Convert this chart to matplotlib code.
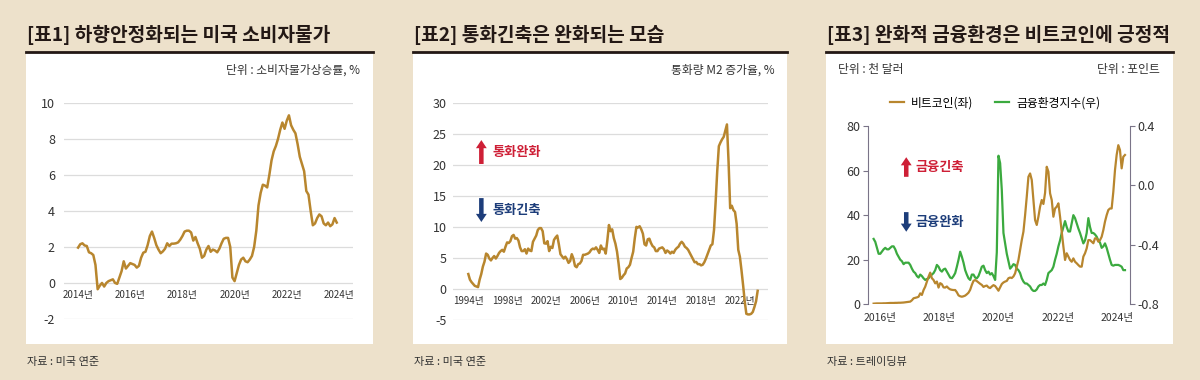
import numpy as np
import matplotlib
matplotlib.use("Agg")
import matplotlib.pyplot as plt
from matplotlib.patches import Rectangle
from matplotlib.lines import Line2D

plt.rcParams['font.family'] = ['Noto Sans CJK KR', 'DejaVu Sans']
plt.rcParams['axes.unicode_minus'] = False

# ---- data ----
# [표1] US CPI, monthly from 2014-01
cpi_start = 2014
cpi = [1.96, 2.15, 2.2, 2.08, 2.05, 1.7, 1.65, 1.55, 1.0, -0.35, -0.15, 0.0,
       -0.2, 0.0, 0.1, 0.15, 0.2, 0.0, -0.05, 0.3, 0.65, 1.2, 0.8, 0.95,
       1.1, 1.05, 1.0, 0.85, 0.95, 1.4, 1.68, 1.73, 2.1, 2.6, 2.85, 2.5,
       2.1, 1.85, 1.65, 1.75, 1.9, 2.2, 2.05, 2.18, 2.18, 2.2, 2.25, 2.4,
       2.6, 2.85, 2.9, 2.9, 2.8, 2.35, 2.55, 2.2, 1.9, 1.4, 1.5, 1.85,
       2.05, 1.73, 1.85, 1.8, 1.7, 1.9, 2.2, 2.45, 2.5, 2.5, 2.0, 0.3,
       0.1, 0.55, 1.0, 1.3, 1.4, 1.2, 1.15, 1.3, 1.5, 2.0, 2.9, 4.3,
       5.0, 5.45, 5.4, 5.3, 6.0, 6.8, 7.3, 7.6, 8.0, 8.5, 8.9, 8.55,
       9.0, 9.3, 8.75, 8.5, 8.3, 7.7, 7.0, 6.6, 6.2, 5.1, 4.9, 4.0,
       3.2, 3.3, 3.6, 3.8, 3.7, 3.3, 3.2, 3.35, 3.15, 3.25, 3.6, 3.35]
cpi_years = [2014, 2016, 2018, 2020, 2022, 2024]
cpi_yticks = [-2, 0, 2, 4, 6, 8, 10]

# [표2] M2 growth, every two months from 1994-01
m2_start = 1994
m2 = [2.4, 1.5, 1.1, 0.8, 0.5, 0.4, 0.3, 1.5, 2.4, 3.6,
      4.4, 5.7, 5.5, 4.9, 4.6, 5.0, 5.3, 4.9, 5.3, 5.8,
      6.1, 6.3, 6.0, 6.8, 7.5, 7.4, 7.7, 8.5, 8.7, 8.1,
      8.2, 7.8, 6.7, 6.1, 6.1, 6.4, 5.7, 6.5, 6.2, 6.1,
      7.6, 8.1, 8.6, 9.5, 9.8, 9.8, 9.3, 7.35, 7.3, 7.7,
      6.1, 6.8, 6.6, 7.9, 8.3, 8.6, 7.2, 5.6, 5.25, 4.9,
      5.2, 4.8, 4.2, 4.5, 5.6, 4.9, 3.7, 3.5, 4.0, 4.1,
      4.5, 5.5, 5.5, 5.6, 5.7, 5.9, 6.3, 6.5, 6.4, 6.7,
      6.3, 5.8, 7.0, 6.4, 6.5, 5.7, 7.8, 10.3, 9.3, 9.6,
      8.2, 7.3, 6.0, 4.0, 1.6, 1.8, 2.2, 2.5, 3.3, 3.5,
      3.9, 5.0, 6.0, 8.2, 10.0, 9.9, 10.1, 9.6, 8.9, 7.2,
      7.0, 8.0, 8.1, 7.4, 6.9, 6.7, 6.1, 6.1, 6.5, 6.6,
      6.7, 6.4, 5.8, 6.2, 6.0, 5.7, 6.0, 5.8, 6.3, 6.6,
      6.8, 7.3, 7.6, 7.3, 6.8, 6.6, 6.3, 5.8, 5.3, 4.8,
      4.3, 4.35, 4.0, 4.0, 3.8, 3.9, 4.3, 4.9, 5.6, 6.3,
      7.0, 7.2, 9.5, 14.0, 19.0, 23.0, 23.6, 24.1, 24.5, 25.5,
      26.5, 20.5, 13.0, 13.4, 12.7, 12.4, 10.5, 6.3, 5.2, 3.0,
      0.6, -2.0, -4.0, -4.1, -4.1, -4.0, -3.7, -2.9, -2.0, -0.3]
m2_years = [1994, 1998, 2002, 2006, 2010, 2014, 2018, 2022]
m2_yticks = [-5, 0, 5, 10, 15, 20, 25, 30]

# [표3] bitcoin (thousand USD) and financial conditions index, ~3-weekly
fin_first, fin_last = 2015.78, 2024.28
btc = [0.3, 0.35, 0.4, 0.4, 0.4, 0.4, 0.45, 0.45, 0.5, 0.55,
       0.6, 0.6, 0.6, 0.65, 0.65, 0.7, 0.7, 0.75, 0.8, 0.9,
       1.0, 1.1, 1.2, 1.8, 2.7, 2.9, 3.1, 3.4, 4.9, 4.2,
       6.4, 7.9, 10.2, 12.4, 14.2, 11.7, 10.9, 9.4, 10.2, 7.5,
       9.5, 9.0, 7.6, 7.5, 8.0, 7.2, 6.7, 6.5, 6.4, 6.4,
       5.4, 4.0, 3.6, 3.4, 3.6, 3.9, 4.5, 5.2, 6.5, 8.7,
       10.5, 10.9, 10.4, 9.8, 9.2, 8.7, 7.8, 8.2, 8.4, 7.6,
       7.3, 8.0, 8.6, 8.2, 7.2, 6.1, 7.6, 9.1, 9.8, 10.2,
       10.5, 11.7, 12.0, 11.8, 12.5, 13.9, 16.9, 19.9, 24.4, 28.8,
       32.6, 40.0, 48.3, 57.2, 58.7, 55.8, 46.8, 37.8, 35.6, 39.3,
       43.8, 46.8, 45.0, 50.0, 61.7, 59.5, 49.8, 46.8, 39.3, 43.0,
       43.8, 45.3, 39.3, 32.6, 25.9, 19.9, 22.9, 21.4, 19.9, 19.1,
       20.6, 19.1, 18.4, 17.6, 16.9, 16.9, 21.4, 22.9, 25.1, 28.8,
       28.8, 28.1, 27.4, 29.6, 29.6, 28.1, 28.8, 30.3, 33.3, 37.1,
       40.0, 42.3, 43.0, 43.0, 50.5, 60.2, 67.0, 71.4, 69.2, 61.0,
       66.2, 67.0]
fci = [-0.36, -0.38, -0.42, -0.46, -0.46, -0.445, -0.43, -0.42, -0.43, -0.43,
       -0.42, -0.41, -0.41, -0.43, -0.46, -0.48, -0.50, -0.51, -0.53, -0.52,
       -0.52, -0.52, -0.535, -0.56, -0.58, -0.59, -0.61, -0.62, -0.60, -0.61,
       -0.625, -0.636, -0.63, -0.625, -0.61, -0.60, -0.59, -0.57, -0.535, -0.547,
       -0.57, -0.58, -0.565, -0.56, -0.58, -0.60, -0.62, -0.625, -0.61, -0.59,
       -0.547, -0.50, -0.446, -0.48, -0.52, -0.57, -0.60, -0.625, -0.636, -0.60,
       -0.60, -0.62, -0.625, -0.61, -0.58, -0.547, -0.54, -0.57, -0.59, -0.58,
       -0.60, -0.59, -0.61, -0.636, -0.45, 0.20, 0.15, -0.03, -0.32, -0.39,
       -0.46, -0.51, -0.56, -0.547, -0.53, -0.535, -0.56, -0.57, -0.59, -0.625,
       -0.647, -0.66, -0.66, -0.67, -0.68, -0.70, -0.71, -0.71, -0.70, -0.68,
       -0.67, -0.67, -0.66, -0.67, -0.636, -0.59, -0.58, -0.57, -0.547, -0.50,
       -0.46, -0.41, -0.37, -0.32, -0.28, -0.24, -0.28, -0.31, -0.31, -0.255,
       -0.20, -0.22, -0.255, -0.29, -0.32, -0.355, -0.39, -0.37, -0.32, -0.22,
       -0.28, -0.32, -0.32, -0.33, -0.345, -0.37, -0.385, -0.42, -0.41, -0.39,
       -0.42, -0.46, -0.50, -0.535, -0.54, -0.535, -0.535, -0.535, -0.54, -0.547,
       -0.57, -0.57]
fin_years = [2016, 2018, 2020, 2022, 2024]
btc_yticks = [0, 20, 40, 60, 80]
fci_yticks = [-0.8, -0.4, 0.0, 0.4]

titles = ['[표1] 하향안정화되는 미국 소비자물가',
          '[표2] 통화긴축은 완화되는 모습',
          '[표3] 완화적 금융환경은 비트코인에 긍정적']
sources = ['자료 : 미국 연준', '자료 : 미국 연준', '자료 : 트레이딩뷰']

# ---- style ----
BG = '#EDE1CB'
GOLD = '#B8862E'
GREEN = '#3BAA3F'
RED = '#CE1F36'
NAVY = '#1D3D7A'
INK = '#231815'
GRID = '#DCDCDC'
SPINE = '#7A7488'
W, H = 1200, 380


def fx(px):
    return px / W


def fy(py):
    return 1 - py / H


def add_axes(fig, x0, y0, x1, y1):
    # pixel box (image coords, top-left origin) -> figure axes
    return fig.add_axes([fx(x0), fy(y1), fx(x1) - fx(x0), (y1 - y0) / H])


def frame(fig, x0, x1, title, source):
    # white card behind the axes, dark rule under the title
    fig.patches.append(Rectangle((fx(x0), fy(344)), fx(x1) - fx(x0), (344 - 53) / H,
                                 transform=fig.transFigure, facecolor='white',
                                 edgecolor='none', zorder=-2))
    fig.lines.append(Line2D([fx(x0), fx(x1)], [fy(52), fy(52)], transform=fig.transFigure,
                            color=INK, lw=2, zorder=-1))
    fig.text(fx(x0 + 1), fy(35), title, fontsize=13.8, fontweight='heavy', color=INK,
             va='center', ha='left')
    fig.text(fx(x0 + 1), fy(362), source, fontsize=8, color='#333333',
             va='center', ha='left')


def zero_axis_panel(ax, years, yticks, label_size, ypad):
    ax.set_facecolor('none')
    for s in ['top', 'right', 'left']:
        ax.spines[s].set_visible(False)
    ax.spines['bottom'].set_position(('data', 0))
    ax.spines['bottom'].set_color('none')
    ax.set_xticks(years)
    ax.set_xticklabels([f'{y}년' for y in years], fontsize=label_size, color='#333333')
    ax.set_yticks(yticks)
    ax.set_yticklabels([str(v) for v in yticks], fontsize=9, color='#333333')
    ax.tick_params(axis='x', length=0, pad=5)
    ax.tick_params(axis='y', length=0, pad=ypad)
    ax.grid(axis='y', color=GRID, lw=0.9)
    ax.set_axisbelow(True)


def arrow_note(ax, x, y, text, color, up):
    dy = 0.055 if up else -0.055
    ax.annotate('', xy=(x, y + dy), xytext=(x, y - dy), xycoords='axes fraction',
                arrowprops=dict(arrowstyle='simple,head_length=0.45,head_width=0.6,tail_width=0.25',
                                color=color, lw=0, mutation_scale=13,
                                shrinkA=0, shrinkB=0))
    ax.text(x + 0.035, y, text, transform=ax.transAxes, fontsize=9.5, fontweight='bold',
            color=color, va='center', ha='left')


fig = plt.figure(figsize=(12, 3.8), dpi=100, facecolor=BG)

frame(fig, 26, 373, titles[0], sources[0])
frame(fig, 413, 787, titles[1], sources[1])
frame(fig, 826, 1173, titles[2], sources[2])

# ---- panel 1 ----
fig.text(fx(360), fy(70), '단위 : 소비자물가상승률, %', fontsize=8.5, color='#333333',
         ha='right', va='center')
ax1 = add_axes(fig, 64, 102.7, 353, 319)
cpi_x = cpi_start + np.arange(len(cpi)) / 12
ax1.plot(cpi_x, cpi, color=GOLD, lw=1.8, solid_joinstyle='round')
ax1.set_xlim(2013.46, 2024.54)
ax1.set_ylim(-2, 10)
zero_axis_panel(ax1, cpi_years, cpi_yticks, 7, 6.5)

# ---- panel 2 ----
fig.text(fx(775), fy(70), '통화량 M2 증가율, %', fontsize=8.5, color='#333333',
         ha='right', va='center')
ax2 = add_axes(fig, 453, 102.7, 768, 320)
m2_x = m2_start + np.arange(len(m2)) / 6
ax2.plot(m2_x, m2, color=GOLD, lw=1.8, solid_joinstyle='round')
ax2.set_xlim(1992.42, 2024.9)
ax2.set_ylim(-5, 30)
zero_axis_panel(ax2, m2_years, m2_yticks, 7, 4.5)
arrow_note(ax2, 0.09, 0.773, '통화완화', RED, True)
arrow_note(ax2, 0.09, 0.506, '통화긴축', NAVY, False)

# ---- panel 3 ----
fig.text(fx(838), fy(70), '단위 : 천 달러', fontsize=8.5, color='#333333',
         ha='left', va='center')
fig.text(fx(1160), fy(70), '단위 : 포인트', fontsize=8.5, color='#333333',
         ha='right', va='center')
ax3 = add_axes(fig, 868.3, 126, 1130, 304.3)
ax3r = ax3.twinx()
fin_x = np.linspace(fin_first, fin_last, len(btc))
l1, = ax3.plot(fin_x, btc, color=GOLD, lw=1.6, label='비트코인(좌)', zorder=3)
l2, = ax3r.plot(fin_x, fci, color=GREEN, lw=1.6, label='금융환경지수(우)')
ax3.set_zorder(ax3r.get_zorder() + 1)
ax3.set_facecolor('none')
ax3r.set_facecolor('none')
ax3.set_xlim(2015.60, 2024.45)
ax3.set_ylim(0, 80)
ax3r.set_ylim(-0.8, 0.4)
ax3.set_xticks(fin_years)
ax3.set_xticklabels([f'{y}년' for y in fin_years], fontsize=7.5, color='#333333')
ax3.set_yticks(btc_yticks)
ax3.set_yticklabels([str(v) for v in btc_yticks], fontsize=9, color='#333333')
ax3r.set_yticks(fci_yticks)
ax3r.set_yticklabels([f'{v:.1f}' for v in fci_yticks], fontsize=9, color='#333333')
for a in (ax3, ax3r):
    for s in ['top', 'bottom']:
        a.spines[s].set_visible(False)
    a.spines['left'].set_color(SPINE)
    a.spines['right'].set_color(SPINE)
ax3.spines['right'].set_visible(False)
ax3r.spines['left'].set_visible(False)
ax3.tick_params(axis='x', length=0, pad=6)
ax3.tick_params(axis='y', length=3.5, color=SPINE, pad=2)
ax3r.tick_params(axis='y', length=3.5, color=SPINE, pad=2)
arrow_note(ax3, 0.145, 0.77, '금융긴축', RED, True)
arrow_note(ax3, 0.145, 0.462, '금융완화', NAVY, False)

fig.legend([l1, l2], [l1.get_label(), l2.get_label()], loc='center',
           bbox_to_anchor=(fx(995), fy(103)), ncol=2, frameon=False, fontsize=8.5,
           handlelength=1.2, columnspacing=1.8, handletextpad=0.6)

fig.savefig('out.png', dpi=100, facecolor=BG)
